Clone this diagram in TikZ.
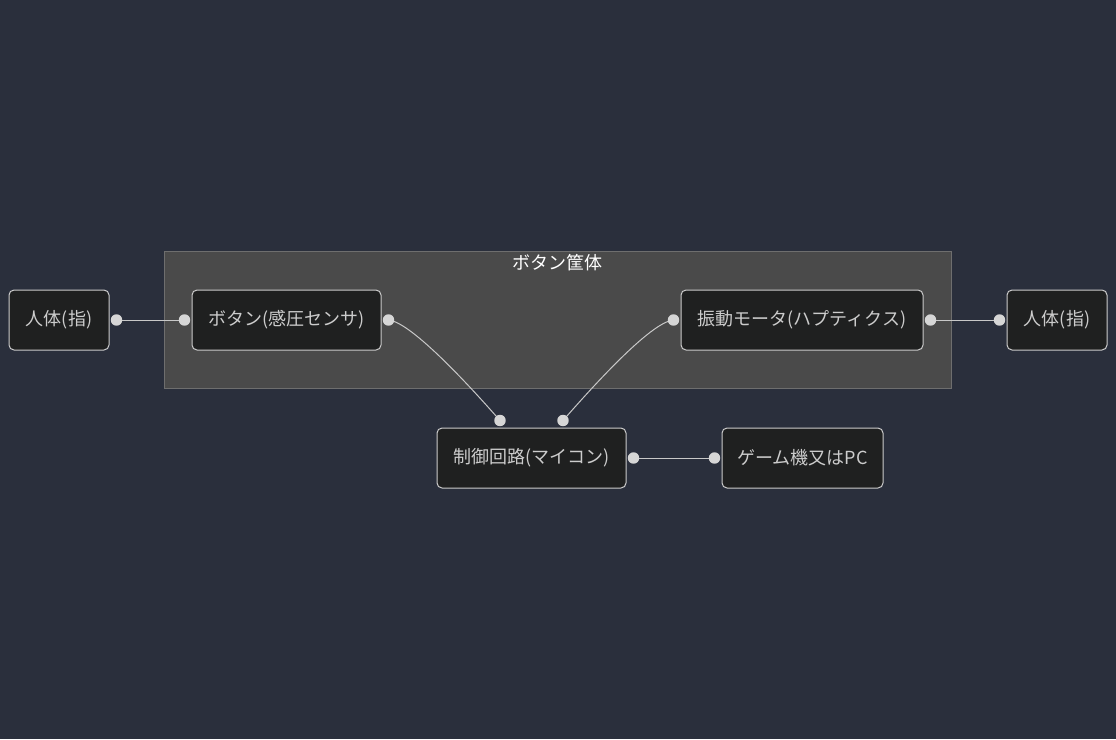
\documentclass[tikz,border=0pt]{standalone}
\usepackage{fontspec}
\setmainfont{Noto Sans CJK JP}
\usepackage{tikz}
\usetikzlibrary{calc}
\definecolor{bgcol}{RGB}{42,47,60}
\definecolor{boxcol}{RGB}{74,74,74}
\definecolor{boxline}{RGB}{110,110,110}
\definecolor{nodecol}{RGB}{31,32,32}
\definecolor{txtcol}{RGB}{204,204,204}
\definecolor{linkcol}{RGB}{200,200,200}
\definecolor{dotcol}{RGB}{214,214,214}

\begin{document}
\begin{tikzpicture}[x=0.75pt,y=-0.75pt,
  part/.style={draw=txtcol,fill=nodecol,text=txtcol,rounded corners=3.75pt,
    line width=0.75pt,minimum height=45pt,inner sep=0pt,font=\fontsize{13.5}{15}\selectfont},
  link/.style={draw=linkcol,line width=0.75pt},
  dot/.style={fill=dotcol}]
  \fill[bgcol] (0,0) rectangle (1116,739);
  \useasboundingbox (0,0) rectangle (1116,739);
  % casing
  \draw[fill=boxcol,draw=boxline,line width=0.75pt] (164,251) rectangle (951,388);
  \node[text=white,font=\fontsize{13.5}{15}\selectfont] (case) at (557,263) {ボタン筐体};
  % parts
  \node[part,minimum width=75pt] (hand1) at (59,320) {人体(指)};
  \node[part,minimum width=141.75pt] (btn) at (286.5,320) {ボタン(感圧センサ)};
  \node[part,minimum width=181.5pt] (motor) at (802,320) {振動モータ(ハプティクス)};
  \node[part,minimum width=75pt] (hand2) at (1057,320) {人体(指)};
  \node[part,minimum width=141.75pt] (mcu) at (531.5,458) {制御回路(マイコン)};
  \node[part,minimum width=120.75pt] (pc) at (802.5,458) {ゲーム機又はPC};
  % end points
  \coordinate (a1) at ($(hand1.east)+(7,0)$);
  \coordinate (a2) at ($(btn.west)+(-7,0)$);
  \coordinate (b1) at ($(btn.east)+(7,0)$);
  \coordinate (b2) at ($(mcu.north)+(-31.5,-7)$);
  \coordinate (c1) at ($(motor.west)+(-7,0)$);
  \coordinate (c2) at ($(mcu.north)+(31.5,-7)$);
  \coordinate (d1) at ($(motor.east)+(7,0)$);
  \coordinate (d2) at ($(hand2.west)+(-7,0)$);
  \coordinate (e1) at ($(mcu.east)+(7,0)$);
  \coordinate (e2) at ($(pc.west)+(-7,0)$);
  \draw[link] (a1)--(a2);
  \draw[link] (b1) .. controls (412,322) and (475,392) .. (b2);
  \draw[link] (c1) .. controls (650,322) and (588,392) .. (c2);
  \draw[link] (d1)--(d2);
  \draw[link] (e1)--(e2);
  \foreach \p in {a1,a2,b1,b2,c1,c2,d1,d2,e1,e2}
    \fill[dot] (\p) circle[radius=4.3pt];
\end{tikzpicture}
\end{document}
